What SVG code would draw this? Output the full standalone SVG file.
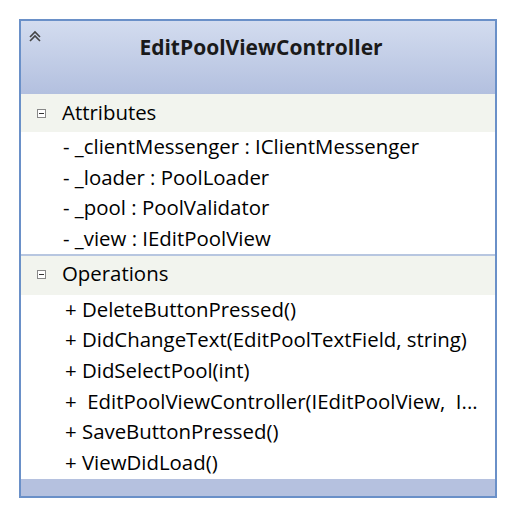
<svg xmlns="http://www.w3.org/2000/svg" width="515" height="516" viewBox="0 0 515 516">
<defs>
<linearGradient id="hdr" x1="0" y1="0" x2="0" y2="1">
<stop offset="0" stop-color="#d3dcef"/>
<stop offset="1" stop-color="#b3c0df"/>
</linearGradient>
</defs>
<style>
.t{font-family:"Open Sans","Liberation Sans",sans-serif;font-size:20.4px;fill:#000}
.h{font-family:"Open Sans","Liberation Sans",sans-serif;font-size:21px;font-weight:bold;fill:#1a1a1a}
.band{fill:#f2f4ee}
.sep{stroke:#9fb3d6;stroke-width:1.5}
</style>
<g id="class-EditPoolViewController">
<rect x="20" y="20" width="476" height="477" fill="#ffffff" stroke="#6a90c8" stroke-width="2"/>
<rect x="21" y="21" width="474" height="73" fill="url(#hdr)"/>
<rect x="21" y="479" width="474" height="17" fill="#b5c1df"/>
<rect class="band" x="21" y="94" width="474" height="38"/>
<line class="sep" x1="21" y1="255" x2="495" y2="255"/>
<rect class="band" x="21" y="256" width="474" height="39"/>
<path d="M30,37 L35,32 L40,37 M30,41 L35,36 L40,41" fill="none" stroke="#444" stroke-width="1.6"/>
<text class="h" x="261" y="55" text-anchor="middle">EditPoolViewController</text>
<rect x="37.5" y="109.5" width="8" height="8" fill="#fff" stroke="#888"/>
<line x1="39" y1="113.5" x2="44" y2="113.5" stroke="#333"/>
<text class="t" x="62" y="120">Attributes</text>
<text class="t" x="63" y="154">- _clientMessenger : IClientMessenger</text>
<text class="t" x="63" y="185">- _loader : PoolLoader</text>
<text class="t" x="63" y="215">- _pool : PoolValidator</text>
<text class="t" x="63" y="246">- _view : IEditPoolView</text>
<rect x="37.5" y="270.5" width="8" height="8" fill="#fff" stroke="#888"/>
<line x1="39" y1="274.5" x2="44" y2="274.5" stroke="#333"/>
<text class="t" x="62" y="281">Operations</text>
<text class="t" x="65" y="317">+ DeleteButtonPressed()</text>
<text class="t" x="65" y="347">+ DidChangeText(EditPoolTextField, string)</text>
<text class="t" x="65" y="378">+ DidSelectPool(int)</text>
<text class="t" x="65" y="409" xml:space="preserve">+  EditPoolViewController(IEditPoolView,  I...</text>
<text class="t" x="65" y="439">+ SaveButtonPressed()</text>
<text class="t" x="65" y="470">+ ViewDidLoad()</text>
</g>
<g id="connectors"/>
</svg>
